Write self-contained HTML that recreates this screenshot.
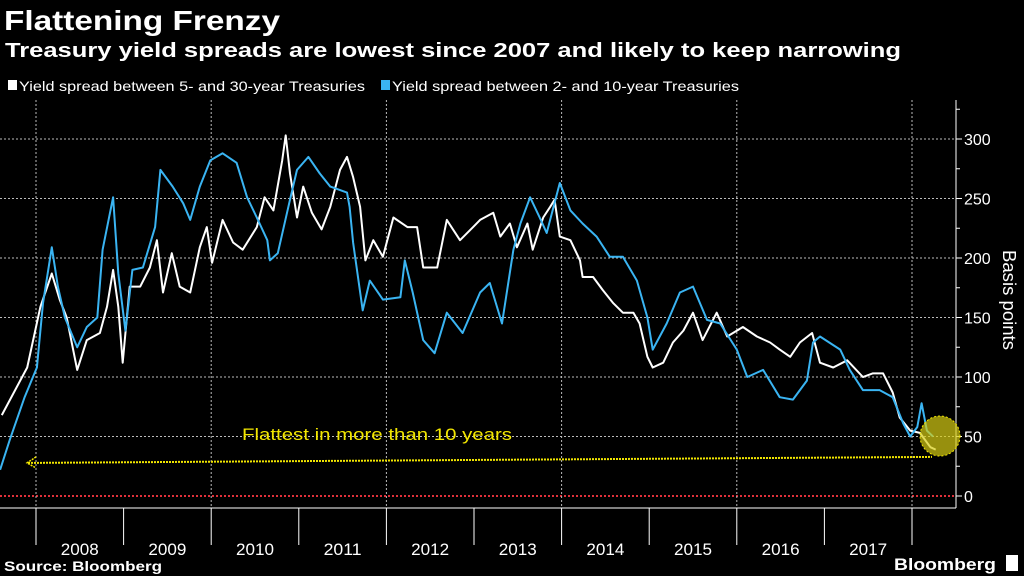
<!DOCTYPE html>
<html><head><meta charset="utf-8"><style>
html,body{margin:0;padding:0;background:#000;}
svg{display:block;font-family:"Liberation Sans",sans-serif;}
</style></head><body>
<svg id="chart" width="1024" height="576" viewBox="0 0 1024 576" xmlns="http://www.w3.org/2000/svg">
<rect width="1024" height="576" fill="#000"/>
<text x="4" y="30" fill="#fff" font-size="28" font-weight="bold" textLength="276" lengthAdjust="spacingAndGlyphs">Flattening Frenzy</text>
<text x="5" y="57" fill="#fff" font-size="20" font-weight="bold" textLength="896" lengthAdjust="spacingAndGlyphs">Treasury yield spreads are lowest since 2007 and likely to keep narrowing</text>
<g>
<rect x="8" y="80" width="9" height="10" fill="#fff"/>
<text x="19" y="91" fill="#fff" font-size="14" textLength="346" lengthAdjust="spacingAndGlyphs">Yield spread between 5- and 30-year Treasuries</text>
<rect x="381" y="80" width="9" height="10" fill="#3ab4f2"/>
<text x="392" y="91" fill="#fff" font-size="14" textLength="347" lengthAdjust="spacingAndGlyphs">Yield spread between 2- and 10-year Treasuries</text>
</g>
<g id="grid"></g>
<g id="axes"></g>
<g id="series"></g>
<g id="annot"></g>
<text transform="translate(1003,300) rotate(90)" text-anchor="middle" fill="#fff" font-size="18" textLength="100" lengthAdjust="spacingAndGlyphs">Basis points</text>
<text x="4" y="571" fill="#fff" font-size="14" font-weight="bold" textLength="158" lengthAdjust="spacingAndGlyphs">Source: Bloomberg</text>
<text x="894" y="570" fill="#fff" font-size="17" font-weight="bold" textLength="102" lengthAdjust="spacingAndGlyphs">Bloomberg</text>
<rect x="1006" y="555" width="12" height="16" fill="#fff"/>
</svg>
<script>
const yTicks=[0,50,100,150,200,250,300];
const years=[2008,2009,2010,2011,2012,2013,2014,2015,2016,2017];
const datesBlue=[2007.59,2007.70,2007.87,2008.01,2008.08,2008.18,2008.25,2008.33,2008.47,2008.58,2008.70,2008.76,2008.88,2008.94,2009.02,2009.10,2009.22,2009.36,2009.42,2009.56,2009.68,2009.76,2009.87,2009.99,2010.13,2010.29,2010.41,2010.52,2010.64,2010.67,2010.76,2010.90,2010.98,2011.11,2011.24,2011.36,2011.55,2011.58,2011.62,2011.73,2011.81,2011.96,2012.16,2012.21,2012.30,2012.42,2012.55,2012.69,2012.87,2013.07,2013.18,2013.32,2013.45,2013.53,2013.64,2013.75,2013.83,2013.98,2014.10,2014.24,2014.40,2014.55,2014.70,2014.86,2014.98,2015.04,2015.20,2015.35,2015.50,2015.66,2015.81,2016.00,2016.12,2016.30,2016.49,2016.64,2016.80,2016.87,2016.95,2017.18,2017.29,2017.44,2017.63,2017.78,2017.90,2017.98,2018.06,2018.11,2018.17,2018.24];
const valuesBlue=[22,47,83,108,162,209,176,150,125,142,150,207,251,187,139,190,192,226,274,260,246,232,260,282,288,280,251,234,215,198,204,249,274,285,271,260,255,243,213,156,181,165,167,198,171,131,120,154,137,171,179,145,207,229,251,234,221,263,240,229,218,201,201,181,150,123,145,171,176,148,145,123,100,106,83,81,97,129,134,123,106,89,89,83,61,50,58,78,55,50];
const datesWhite=[2007.61,2007.90,2008.05,2008.18,2008.27,2008.35,2008.47,2008.58,2008.73,2008.81,2008.88,2008.94,2008.99,2009.07,2009.19,2009.30,2009.38,2009.45,2009.55,2009.64,2009.76,2009.87,2009.95,2010.01,2010.13,2010.25,2010.36,2010.52,2010.61,2010.71,2010.81,2010.85,2010.90,2010.98,2011.05,2011.15,2011.26,2011.36,2011.47,2011.55,2011.62,2011.70,2011.76,2011.85,2011.96,2012.08,2012.24,2012.35,2012.42,2012.58,2012.69,2012.84,2012.99,2013.07,2013.22,2013.30,2013.41,2013.49,2013.61,2013.67,2013.79,2013.87,2013.92,2013.98,2014.10,2014.21,2014.24,2014.36,2014.47,2014.59,2014.70,2014.82,2014.89,2014.98,2015.04,2015.16,2015.27,2015.39,2015.50,2015.61,2015.77,2015.89,2016.07,2016.23,2016.38,2016.49,2016.61,2016.72,2016.86,2016.95,2017.10,2017.26,2017.44,2017.55,2017.67,2017.78,2017.86,2017.98,2018.09,2018.21,2018.27];
const valuesWhite=[68,108,159,187,165,150,106,131,137,159,190,159,112,176,176,192,215,171,204,176,171,209,226,196,232,213,207,226,251,240,282,303,271,234,260,238,224,243,274,285,268,243,198,215,201,234,226,226,192,192,232,215,226,232,238,218,229,209,229,207,234,243,249,218,215,198,184,184,173,162,154,154,145,117,108,112,129,139,154,131,154,134,142,134,129,123,117,129,137,112,108,114,100,103,103,87,66,55,53,41,39];
const annotLevel=[32];

const NS="http://www.w3.org/2000/svg";
const xS=t=>36+(t-2008)*87.6;
const yS=v=>496-v*1.19;
function mk(tag,attrs,parent){const e=document.createElementNS(NS,tag);for(const k in attrs)e.setAttribute(k,attrs[k]);parent.appendChild(e);return e;}
const grid=document.getElementById('grid'),axes=document.getElementById('axes'),series=document.getElementById('series'),annot=document.getElementById('annot');

yTicks.forEach(v=>{
  if(v>0){const g=mk('line',{x1:0,x2:956,y1:yS(v),y2:yS(v),stroke:'#bbb','stroke-width':1,'stroke-dasharray':'2,2'},grid);
  
  }
  const t=mk('line',{x1:956,x2:962,y1:yS(v),y2:yS(v),stroke:'#fff'},axes);
  
  
  const m=mk('line',{x1:956,x2:960,y1:yS(v+25),y2:yS(v+25),stroke:'#fff'},axes);
  
  
  const l=mk('text',{x:964,y:yS(v)+6,fill:'#fff','font-size':16},axes);
  l.textContent=v;
  
  
});
const zero=mk('line',{x1:0,x2:956,y1:yS(0),y2:yS(0),stroke:'#e0303a','stroke-width':2,'stroke-dasharray':'2,2'},grid);


const ax=mk('line',{x1:956,x2:956,y1:100,y2:508,stroke:'#fff'},axes);


const bx=mk('line',{x1:0,x2:956,y1:508,y2:508,stroke:'#fff'},axes);


years.concat([2018]).forEach((y,i)=>{
  const x=xS(y);
  if((y-2008)%2===0){const g=mk('line',{x1:x,x2:x,y1:100,y2:508,stroke:'#bbb','stroke-dasharray':'2,2'},grid);
  
  }
  const t=mk('line',{x1:x,x2:x,y1:508,y2:545,stroke:'#fff'},axes);
  
  
  if(y<2018){const l=mk('text',{x:x+43.8,y:555,fill:'#fff','font-size':17,'text-anchor':'middle',textLength:38,lengthAdjust:'spacingAndGlyphs'},axes);
  l.textContent=y;
  
  }
});
function line(d,v,color,name){
  const p=d.map((t,i)=>(i?'L':'M')+xS(t).toFixed(1)+','+yS(v[i]).toFixed(1)).join('');
  const e=mk('path',{d:p,fill:'none',stroke:color,'stroke-width':2,'stroke-linejoin':'round'},series);
  
  
}
line(datesWhite,valuesWhite,'#ffffff','series-5-30-line');
line(datesBlue,valuesBlue,'#3ab4f2','series-2-10-line');

const ay=yS(annotLevel[0]);
const ar=mk('line',{x1:28,x2:932,y1:ay+5,y2:ay-1,stroke:'#f2e600','stroke-width':2,'stroke-dasharray':'2,1'},annot);


const ah=mk('path',{d:`M36,${ay-1} L27,${ay+5} L36,${ay+10}`,fill:'none',stroke:'#f2e600','stroke-width':1.5,'stroke-dasharray':'2,1'},annot);


const c=mk('circle',{cx:940,cy:436,r:20,fill:'rgba(215,205,20,0.7)',stroke:'#f2e600','stroke-dasharray':'2,2'},annot);


const at=mk('text',{x:242,y:440,fill:'#f2e600','font-size':17,textLength:270,lengthAdjust:'spacingAndGlyphs'},annot);
at.textContent='Flattest in more than 10 years';


</script>
</body></html>
